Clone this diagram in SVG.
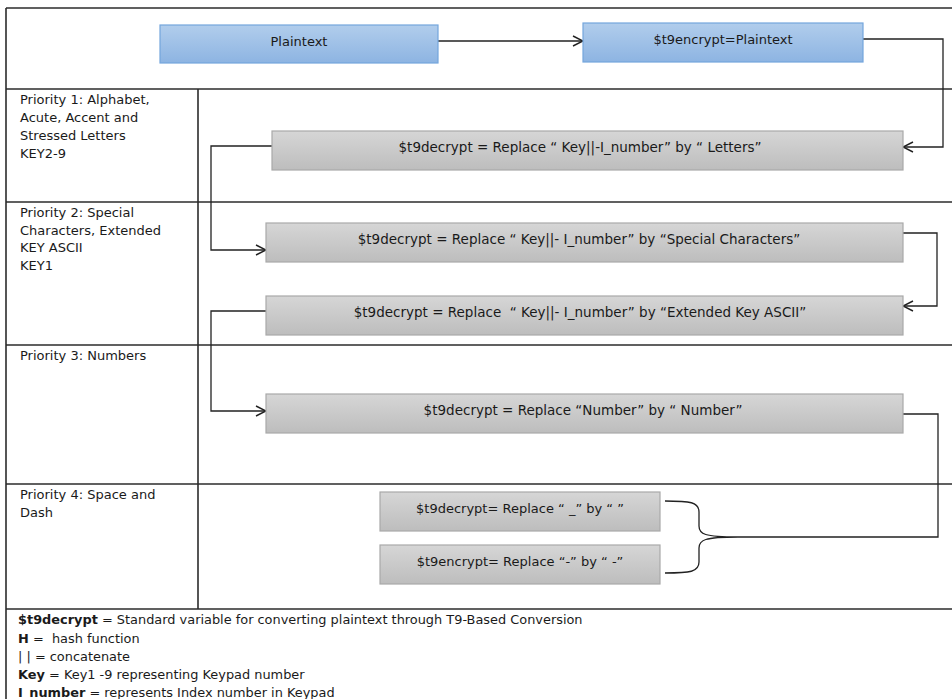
<svg xmlns="http://www.w3.org/2000/svg" width="952" height="699" viewBox="0 0 952 699">
  <style>
    .grid { stroke: #2b2b2b; stroke-width: 1.6; fill: none; }
    .conn { stroke: #222; stroke-width: 1.3; fill: none; }
    .blue { fill: url(#gBlue); stroke: #74a6dd; stroke-width: 1.2; }
    .gray { fill: url(#gGray); stroke: #a9a9a9; stroke-width: 1.2; }
    text { font-family: "DejaVu Sans", "Liberation Sans", sans-serif; fill: #1a1a1a; }
    .lbl { font-size: 13px; }
    .box { font-size: 13px; text-anchor: middle; }
    .wide { font-size: 13.5px; }
    .leg { font-size: 12.9px; }
    .b { font-weight: bold; }
  </style>
  <defs>
    <linearGradient id="gBlue" x1="0" y1="0" x2="0" y2="1">
      <stop offset="0" stop-color="#b1cdec"/>
      <stop offset="1" stop-color="#8db4e2"/>
    </linearGradient>
    <linearGradient id="gGray" x1="0" y1="0" x2="0" y2="1">
      <stop offset="0" stop-color="#d6d6d6"/>
      <stop offset="1" stop-color="#bdbdbd"/>
    </linearGradient>
    <marker id="arr" viewBox="0 0 12 12" refX="11" refY="6" markerWidth="12" markerHeight="12" markerUnits="userSpaceOnUse" orient="auto">
      <path d="M1,1 L11,6 L1,11" fill="none" stroke="#222" stroke-width="1.4"/>
    </marker>
  </defs>

  <rect width="952" height="699" fill="#ffffff"/>

  <!-- table frame -->
  <g id="table">
    <line class="grid" x1="6" y1="8" x2="952" y2="8"/>
    <line class="grid" x1="6" y1="8" x2="6" y2="699"/>
    <line class="grid" x1="6" y1="89" x2="952" y2="89"/>
    <line class="grid" x1="6" y1="202" x2="952" y2="202"/>
    <line class="grid" x1="6" y1="345" x2="952" y2="345"/>
    <line class="grid" x1="6" y1="484" x2="952" y2="484"/>
    <line class="grid" x1="6" y1="609" x2="952" y2="609"/>
    <line class="grid" x1="198" y1="89" x2="198" y2="609"/>
  </g>

  <!-- row headings -->
  <g id="priority1">
    <text class="lbl" x="20" y="104">Priority 1: Alphabet,</text>
    <text class="lbl" x="20" y="122">Acute, Accent and</text>
    <text class="lbl" x="20" y="140">Stressed Letters</text>
    <text class="lbl" x="20" y="158">KEY2-9</text>
  </g>
  <g id="priority2">
    <text class="lbl" x="20" y="217">Priority 2: Special</text>
    <text class="lbl" x="20" y="235">Characters, Extended</text>
    <text class="lbl" x="20" y="252">KEY ASCII</text>
    <text class="lbl" x="20" y="270">KEY1</text>
  </g>
  <g id="priority3">
    <text class="lbl" x="20" y="360">Priority 3: Numbers</text>
  </g>
  <g id="priority4">
    <text class="lbl" x="20" y="499">Priority 4: Space and</text>
    <text class="lbl" x="20" y="517">Dash</text>
  </g>

  <!-- connectors -->
  <g id="connectors">
    <path class="conn" d="M438,41 H583" marker-end="url(#arr)"/>
    <path class="conn" d="M863,39 H943 V147 H903" marker-end="url(#arr)"/>
    <path class="conn" d="M272,146 H211 V250 H266" marker-end="url(#arr)"/>
    <path class="conn" d="M903,233 H937 V306 H903" marker-end="url(#arr)"/>
    <path class="conn" d="M266,311 H211 V411 H266" marker-end="url(#arr)"/>
    <path class="conn" d="M903,414 H938 V537 H738"/>
    <path class="conn" d="M665,501 C690,501 699,502 699,512 V526 C699,534 704,537 738,537 C704,537 699,540 699,548 V562 C699,572 690,573 665,573"/>
  </g>

  <!-- process nodes -->
  <g id="plaintext">
    <rect class="blue" x="160" y="25" width="278" height="38"/>
    <text class="box" x="299" y="46">Plaintext</text>
  </g>
  <g id="encrypt">
    <rect class="blue" x="583" y="23" width="280" height="39"/>
    <text class="box" x="723" y="44">$t9encrypt=Plaintext</text>
  </g>
  <g id="letters">
    <rect class="gray" x="272" y="131" width="631" height="39"/>
    <text class="box wide" x="580" y="152">$t9decrypt = Replace “ Key||-I_number” by “ Letters”</text>
  </g>
  <g id="special">
    <rect class="gray" x="266" y="223" width="637" height="39"/>
    <text class="box wide" x="579" y="244">$t9decrypt = Replace “ Key||- I_number” by “Special Characters”</text>
  </g>
  <g id="extended">
    <rect class="gray" x="266" y="296" width="637" height="39"/>
    <text class="box wide" x="580" y="317" xml:space="preserve">$t9decrypt = Replace  “ Key||- I_number” by “Extended Key ASCII”</text>
  </g>
  <g id="numbers">
    <rect class="gray" x="266" y="394" width="637" height="39"/>
    <text class="box wide" x="583" y="415">$t9decrypt = Replace “Number” by “ Number”</text>
  </g>
  <g id="space">
    <rect class="gray" x="380" y="492" width="280" height="39"/>
    <text class="box" x="520" y="513">$t9decrypt= Replace “ _” by “ ”</text>
  </g>
  <g id="dash">
    <rect class="gray" x="380" y="545" width="280" height="39"/>
    <text class="box" x="520" y="566">$t9encrypt= Replace “-” by “ -”</text>
  </g>

  <!-- legend -->
  <g id="legend">
    <text class="leg" x="18" y="624"><tspan class="b">$t9decrypt</tspan> = Standard variable for converting plaintext through T9-Based Conversion</text>
    <text class="leg" x="18" y="643" xml:space="preserve"><tspan class="b">H</tspan> =  hash function</text>
    <text class="leg" x="18" y="661">| | = concatenate</text>
    <text class="leg" x="18" y="679"><tspan class="b">Key</tspan> = Key1 -9 representing Keypad number</text>
    <text class="leg" x="18" y="697"><tspan class="b">I_number</tspan> = represents Index number in Keypad</text>
  </g>
</svg>
